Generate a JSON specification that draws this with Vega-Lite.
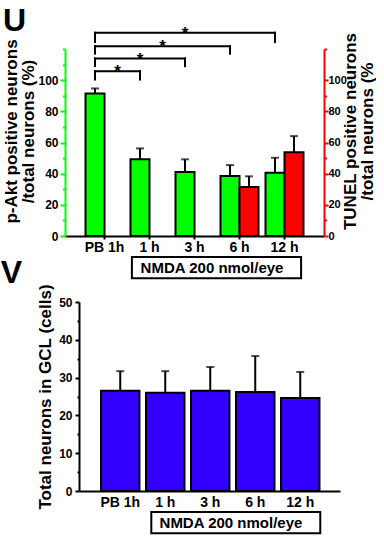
{
  "$schema": "https://vega.github.io/schema/vega-lite/v6.json",
  "padding": {"left": 0, "top": 4, "right": 0, "bottom": 0},
  "config": {
    "font": "Liberation Sans",
    "view": {"stroke": null},
    "axis": {"labelFontWeight": "bold", "titleFontWeight": "bold", "grid": false, "labelColor": "black", "titleColor": "black"}
  },
  "datasets": {
    "akt": [
      {"time": "PB 1h", "series": "p-Akt", "value": 91.5, "upper": 94.7},
      {"time": "1 h", "series": "p-Akt", "value": 49.2, "upper": 56.2},
      {"time": "3 h", "series": "p-Akt", "value": 41.0, "upper": 49.2},
      {"time": "6 h", "series": "p-Akt", "value": 38.5, "upper": 45.5},
      {"time": "12 h", "series": "p-Akt", "value": 40.6, "upper": 50.2},
      {"time": "6 h", "series": "TUNEL", "value": 31.4, "upper": 38.3},
      {"time": "12 h", "series": "TUNEL", "value": 53.8, "upper": 64.1}
    ],
    "brackets": [
      {"from": 0, "to": 1, "mid": 0.5, "top": 105.8, "bottom": 100.4, "label": "*"},
      {"from": 0, "to": 2, "mid": 1.0, "top": 113.9, "bottom": 109.0, "label": "*"},
      {"from": 0, "to": 3, "mid": 1.5, "top": 121.8, "bottom": 117.0, "label": "*"},
      {"from": 0, "to": 4, "mid": 2.0, "top": 130.4, "bottom": 124.4, "label": "*"}
    ],
    "uBox": [{"label": "NMDA 200 nmol/eye", "x1": 0.82, "x2": 4.58, "xm": 2.6, "y1": -13.5, "y2": -27.1, "ym": -20.4}],
    "gcl": [
      {"time": "PB 1h", "value": 26.5, "upper": 31.7},
      {"time": "1 h", "value": 26.0, "upper": 31.7},
      {"time": "3 h", "value": 26.5, "upper": 32.8},
      {"time": "6 h", "value": 26.2, "upper": 35.7},
      {"time": "12 h", "value": 24.6, "upper": 31.5}
    ],
    "vBox": [{"label": "NMDA 200 nmol/eye", "x1": 0.69, "x2": 4.445, "xm": 2.46, "y1": -5.56, "y2": -11.19, "ym": -8.36}]
  },
  "bounds": "flush",
  "spacing": 66,
  "vconcat": [
    {
      "width": 259,
      "height": 187,
      "title": {"text": "U", "anchor": "start", "frame": "bounds", "fontSize": 32, "fontWeight": "bold", "offset": -13, "color": "black"},
      "layer": [
        {
          "data": {"name": "akt"},
          "layer": [
            {
              "mark": {"type": "bar", "stroke": "black", "strokeWidth": 2},
              "encoding": {
                "x": {"field": "time", "type": "nominal", "sort": ["PB 1h", "1 h", "3 h", "6 h", "12 h"],
                  "scale": {"type": "band", "domain": ["PB 1h", "1 h", "3 h", "6 h", "12 h"], "paddingInner": 0.1556, "paddingOuter": 0.4556},
                  "axis": {"orient": "bottom", "title": null, "labelAngle": 0, "labelFontSize": 14, "labelPadding": 1, "domainColor": "black", "domainWidth": 2, "tickColor": "black", "tickWidth": 2, "tickSize": 3}},
                "xOffset": {"field": "series", "type": "nominal", "scale": {"domain": ["p-Akt", "TUNEL"], "paddingInner": 0, "paddingOuter": 0}},
                "y": {"field": "value", "type": "quantitative", "scale": {"domain": [0, 120], "nice": false},
                  "axis": {"orient": "left", "values": [0, 20, 40, 60, 80, 100], "title": ["p-Akt positive neurons", "/total neurons (%)"],
                    "domainColor": "#00ff00", "domainWidth": 2, "tickColor": "#00ff00", "tickWidth": 2, "tickSize": 5, "labelPadding": 2, "labelFontSize": 12,
                    "titleFontSize": 17, "titleLineHeight": 17, "titlePadding": 0, "titleY": 82}},
                "color": {"field": "series", "type": "nominal", "scale": {"domain": ["p-Akt", "TUNEL"], "range": ["#00ff00", "#ff0000"]}, "legend": null}
              }
            },
            {
              "mark": {"type": "rule", "strokeWidth": 2, "color": "black"},
              "encoding": {
                "x": {"field": "time", "type": "nominal", "sort": ["PB 1h", "1 h", "3 h", "6 h", "12 h"]},
                "xOffset": {"field": "series", "type": "nominal"},
                "y": {"field": "value", "type": "quantitative", "scale": {"domain": [0, 120], "nice": false},
                  "axis": {"orient": "left", "values": [10, 30, 50, 70, 90, 110, 120], "labels": false, "domain": false, "title": null, "tickColor": "#00ff00", "tickWidth": 2, "tickSize": 2.5}},
                "y2": {"field": "upper"}
              }
            },
            {
              "mark": {"type": "tick", "thickness": 2, "size": 8, "color": "black"},
              "encoding": {
                "x": {"field": "time", "type": "nominal", "sort": ["PB 1h", "1 h", "3 h", "6 h", "12 h"]},
                "xOffset": {"field": "series", "type": "nominal"},
                "y": {"field": "upper", "type": "quantitative", "scale": {"domain": [0, 120], "nice": false},
                  "axis": {"orient": "right", "values": [0, 20, 40, 60, 80, 100], "title": ["TUNEL positive neurons", "/total neurons (%"],
                    "titleAngle": 270, "titleBaseline": "top", "titleAlign": "center",
                    "domainColor": "#ff0000", "domainWidth": 2, "tickColor": "#ff0000", "tickWidth": 2, "tickSize": 4, "labelPadding": 0, "labelFontSize": 11,
                    "titleFontSize": 17, "titleLineHeight": 17, "titlePadding": -21, "titleY": 82}}
              }
            }
          ],
          "resolve": {"scale": {"y": "independent"}}
        },
        {
          "layer": [
            {
              "data": {"name": "brackets"},
              "mark": {"type": "rule", "strokeWidth": 2, "color": "black", "strokeCap": "square"},
              "encoding": {
                "x": {"field": "from", "type": "quantitative", "scale": {"domain": [-0.6667, 5.0889], "nice": false, "zero": false}, "axis": null},
                "x2": {"field": "to"},
                "y": {"field": "top", "type": "quantitative", "scale": {"domain": [0, 120], "nice": false},
                  "axis": {"orient": "right", "values": [10, 30, 50, 70, 90, 110, 120], "labels": false, "domain": false, "title": null, "tickColor": "#ff0000", "tickWidth": 2, "tickSize": 2.5}}
              }
            },
            {
              "data": {"name": "brackets"},
              "mark": {"type": "rule", "strokeWidth": 2, "color": "black", "strokeCap": "square"},
              "encoding": {
                "x": {"field": "from", "type": "quantitative", "axis": null},
                "y": {"field": "bottom", "type": "quantitative"},
                "y2": {"field": "top"}
              }
            },
            {
              "data": {"name": "brackets"},
              "mark": {"type": "rule", "strokeWidth": 2, "color": "black", "strokeCap": "square"},
              "encoding": {
                "x": {"field": "to", "type": "quantitative", "axis": null},
                "y": {"field": "bottom", "type": "quantitative"},
                "y2": {"field": "top"}
              }
            },
            {
              "data": {"name": "brackets"},
              "mark": {"type": "text", "fontSize": 17, "fontWeight": "bold", "baseline": "alphabetic", "dy": 6, "color": "black"},
              "encoding": {
                "x": {"field": "mid", "type": "quantitative", "axis": null},
                "y": {"field": "top", "type": "quantitative"},
                "text": {"field": "label"}
              }
            },
            {
              "data": {"name": "uBox"},
              "mark": {"type": "rect", "fill": "white", "stroke": "black", "strokeWidth": 2},
              "encoding": {
                "x": {"field": "x1", "type": "quantitative", "axis": null},
                "x2": {"field": "x2"},
                "y": {"field": "y1", "type": "quantitative"},
                "y2": {"field": "y2"}
              }
            },
            {
              "data": {"name": "uBox"},
              "mark": {"type": "text", "fontSize": 15, "fontWeight": "bold", "baseline": "middle", "color": "black"},
              "encoding": {
                "x": {"field": "xm", "type": "quantitative", "axis": null},
                "y": {"field": "ym", "type": "quantitative"},
                "text": {"field": "label"}
              }
            }
          ]
        }
      ],
      "resolve": {"scale": {"x": "independent", "y": "independent"}}
    },
    {
      "width": 275,
      "height": 189,
      "title": {"text": "V", "anchor": "start", "frame": "bounds", "fontSize": 32, "fontWeight": "bold", "offset": -6, "dx": -36, "color": "black"},
      "layer": [
        {
          "data": {"name": "gcl"},
          "layer": [
            {
              "mark": {"type": "bar", "stroke": "black", "strokeWidth": 2, "fill": "#3300ff"},
              "encoding": {
                "x": {"field": "time", "type": "nominal", "sort": ["PB 1h", "1 h", "3 h", "6 h", "12 h"],
                  "scale": {"type": "band", "domain": ["PB 1h", "1 h", "3 h", "6 h", "12 h"], "paddingInner": 0.145, "paddingOuter": 0.628, "align": 0.637},
                  "axis": {"orient": "bottom", "title": null, "labelAngle": 0, "labelFontSize": 14, "labelPadding": 4, "domainColor": "black", "domainWidth": 2, "domainDash": [0, 14, 400, 0], "ticks": false}},
                "y": {"field": "value", "type": "quantitative", "scale": {"domain": [0, 50], "nice": false},
                  "axis": {"orient": "left", "offset": -14, "values": [0, 10, 20, 30, 40, 50], "title": "Total neurons in GCL (cells)",
                    "domainColor": "black", "domainWidth": 2, "tickColor": "black", "tickWidth": 2, "tickSize": 4, "labelPadding": 3, "labelFontSize": 12,
                    "titleFontSize": 17, "titlePadding": 4}}
              }
            },
            {
              "mark": {"type": "rule", "strokeWidth": 2, "color": "black"},
              "encoding": {
                "x": {"field": "time", "type": "nominal", "sort": ["PB 1h", "1 h", "3 h", "6 h", "12 h"]},
                "y": {"field": "value", "type": "quantitative", "scale": {"domain": [0, 50], "nice": false},
                  "axis": {"orient": "left", "offset": -14, "values": [5, 15, 25, 35, 45], "labels": false, "domain": false, "title": null, "tickColor": "black", "tickWidth": 2, "tickSize": 2}},
                "y2": {"field": "upper"}
              }
            },
            {
              "mark": {"type": "tick", "thickness": 2, "size": 8, "color": "black"},
              "encoding": {
                "x": {"field": "time", "type": "nominal", "sort": ["PB 1h", "1 h", "3 h", "6 h", "12 h"]},
                "y": {"field": "upper", "type": "quantitative", "scale": {"domain": [0, 50], "nice": false}, "axis": null}
              }
            }
          ],
          "resolve": {"scale": {"y": "independent"}}
        },
        {
          "data": {"name": "vBox"},
          "layer": [
            {
              "mark": {"type": "rect", "fill": "white", "stroke": "black", "strokeWidth": 2},
              "encoding": {
                "x": {"field": "x1", "type": "quantitative", "scale": {"domain": [-1.2278, 4.8833], "nice": false, "zero": false}, "axis": null},
                "x2": {"field": "x2"},
                "y": {"field": "y1", "type": "quantitative", "scale": {"domain": [0, 50], "nice": false}, "axis": null},
                "y2": {"field": "y2"}
              }
            },
            {
              "mark": {"type": "text", "fontSize": 15, "fontWeight": "bold", "baseline": "middle", "color": "black"},
              "encoding": {
                "x": {"field": "xm", "type": "quantitative", "axis": null},
                "y": {"field": "ym", "type": "quantitative", "axis": null},
                "text": {"field": "label"}
              }
            }
          ]
        }
      ],
      "resolve": {"scale": {"x": "independent", "y": "independent"}}
    }
  ]
}
